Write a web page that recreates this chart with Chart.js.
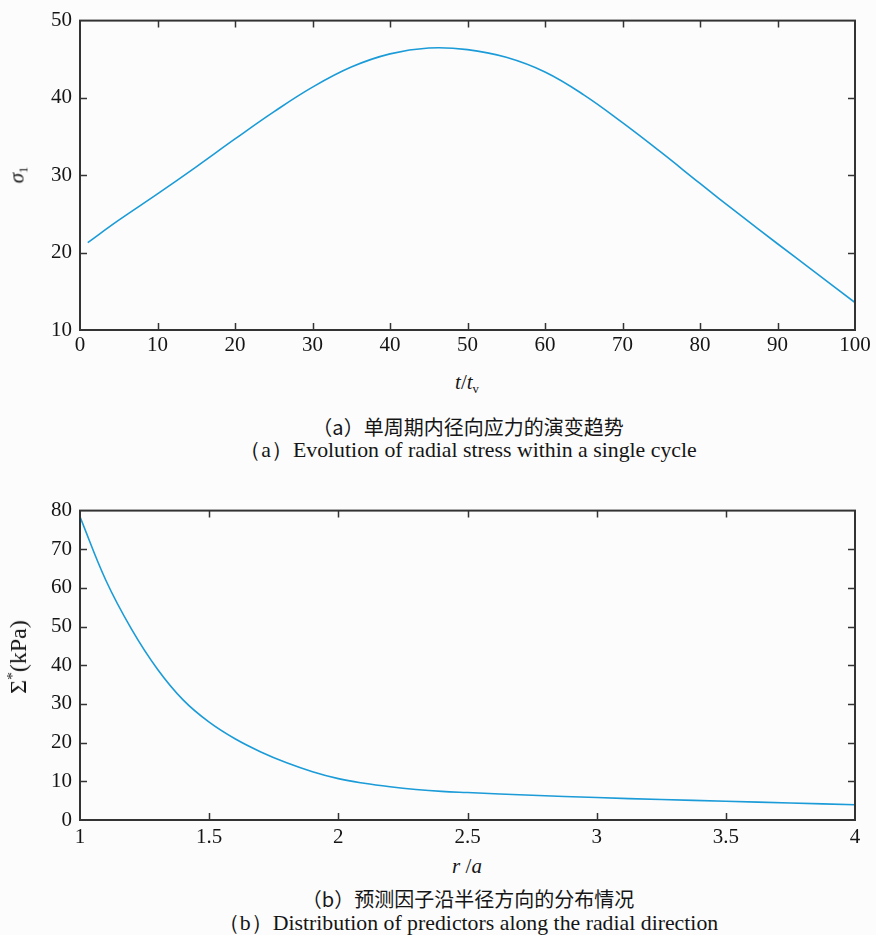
<!DOCTYPE html>
<html>
<head>
<meta charset="utf-8">
<script src="https://cdn.jsdelivr.net/npm/chart.js@4/dist/chart.umd.min.js"></script>
<style>
body {
    margin: 0;
    width: 876px;
    height: 935px;
    position: relative;
    overflow: hidden;
    background: #fcfcfc;
    color: #151515;
    font-family: "Liberation Serif", "DejaVu Serif", serif;
}
.panel { position: absolute; left: 0; width: 876px; height: 360px; }
.lbl { position: absolute; white-space: nowrap; transform: translate(-50%, -50%); line-height: 1; }
.rot { transform: translate(-50%, -50%) rotate(-90deg); }
.axis { font-size: 21px; }
.cap-zh { font-family: "Noto Sans CJK SC", sans-serif; font-size: 20px; }
.cap-en { font-size: 21.8px; }
sub { font-size: 60%; vertical-align: -0.35em; line-height: 0; }
sup { font-size: 65%; vertical-align: 0.55em; line-height: 0; }
</style>
</head>
<body>
<canvas id="stressChart" class="panel" style="top:0" width="876" height="360"></canvas>
<canvas id="predictorChart" class="panel" style="top:490px" width="876" height="360"></canvas>

<div class="lbl rot axis" style="left:17px; top:175px;"><i>σ</i><sub>1</sub></div>
<div class="lbl axis" style="left:467px; top:382px;"><i>t</i>/<i>t</i><sub>v</sub></div>
<div class="lbl cap-zh" style="left:468px; top:427px;">（a）单周期内径向应力的演变趋势</div>
<div class="lbl cap-en" style="left:468px; top:451px;">（a）Evolution of radial stress within a single cycle</div>

<div class="lbl rot" style="left:18px; top:657px; font-size:24px;">Σ<sup>*</sup>(kPa)</div>
<div class="lbl axis" style="left:467px; top:866px;"><i>r</i> /<i>a</i></div>
<div class="lbl cap-zh" style="left:468px; top:899px;">（b）预测因子沿半径方向的分布情况</div>
<div class="lbl cap-en" style="left:468px; top:924px;">（b）Distribution of predictors along the radial direction</div>

<script>
// (a) radial stress over one cycle
const timeSteps = [1, 5, 10, 15, 20, 25, 30, 35, 40, 45, 50, 55, 60, 65, 70, 75, 80, 85, 90, 95, 100];
const radialStress = [21.3, 24.2, 27.6, 31.1, 34.7, 38.2, 41.4, 44.0, 45.7, 46.45, 46.25, 45.25, 43.35, 40.4, 36.8, 32.95, 28.95, 25.0, 21.15, 17.35, 13.55];

// (b) predictor along the radius
const radiusRatio = [1.0, 1.1, 1.2, 1.3, 1.4, 1.5, 1.6, 1.7, 1.8, 1.9, 2.0, 2.1, 2.2, 2.3, 2.4, 2.5, 2.75, 3.0, 3.25, 3.5, 3.75, 4.0];
const predictor = [78.4, 62.0, 49.3, 39.0, 31.0, 25.3, 21.0, 17.6, 14.8, 12.5, 10.7, 9.5, 8.6, 7.9, 7.4, 7.1, 6.4, 5.8, 5.3, 4.85, 4.4, 3.95];

// axis ranges: [min, max, step]
const timeAxis = [0, 100, 10];
const stressAxis = [10, 50, 10];
const radiusAxis = [1, 4, 0.5];
const predictorAxis = [0, 80, 10];

const LINE_COLOR = '#1b9bd7';
const FRAME_COLOR = '#333';
const TICK_FONT = { family: '"Liberation Serif", serif', size: 21 };

// closed box with inward ticks on all four sides
const boxTicks = {
    id: 'boxTicks',
    afterDatasetsDraw(chart) {
        const { ctx, chartArea: a, scales: { x, y } } = chart;
        const len = 7;
        ctx.save();
        ctx.strokeStyle = FRAME_COLOR;
        ctx.lineWidth = 1.5;
        ctx.beginPath();
        x.ticks.forEach(t => {
            if (t.value <= x.min || t.value >= x.max) return;
            const px = Math.round(x.getPixelForValue(t.value)) + 0.5;
            ctx.moveTo(px, a.bottom);
            ctx.lineTo(px, a.bottom - len);
            ctx.moveTo(px, a.top);
            ctx.lineTo(px, a.top + len);
        });
        y.ticks.forEach(t => {
            if (t.value <= y.min || t.value >= y.max) return;
            const py = Math.round(y.getPixelForValue(t.value)) + 0.5;
            ctx.moveTo(a.left, py);
            ctx.lineTo(a.left + len, py);
            ctx.moveTo(a.right, py);
            ctx.lineTo(a.right - len, py);
        });
        ctx.stroke();
        ctx.lineWidth = 2;
        ctx.strokeRect(a.left, a.top, a.right - a.left, a.bottom - a.top);
        ctx.restore();
    }
};

function axisOptions(range, padding, fit) {
    return {
        type: 'linear',
        min: range[0],
        max: range[1],
        grid: { display: false, drawTicks: false },
        border: { display: false },
        ticks: {
            stepSize: range[2],
            padding: padding,
            autoSkip: false,
            maxRotation: 0,
            color: '#151515',
            font: TICK_FONT,
            callback: v => String(v)
        },
        afterFit: fit
    };
}

function makeChart(id, xs, ys, xRange, yRange, xPad, topPad) {
    const points = xs.map((v, i) => ({ x: v, y: ys[i] }));
    return new Chart(document.getElementById(id), {
        type: 'line',
        data: {
            datasets: [{
                data: points,
                borderColor: LINE_COLOR,
                borderWidth: 1.6,
                pointRadius: 0,
                tension: 0.4,
                fill: false
            }]
        },
        options: {
            responsive: false,
            animation: false,
            layout: { padding: { top: topPad, right: 21, left: 0, bottom: 0 } },
            plugins: { legend: { display: false }, tooltip: { enabled: false } },
            scales: {
                x: axisOptions(xRange, xPad, s => { s.height = 30; }),
                y: axisOptions(yRange, 8, s => { s.width = 80; })
            }
        },
        plugins: [boxTicks]
    });
}

function drawAll() {
    makeChart('stressChart', timeSteps, radialStress, timeAxis, stressAxis, 3, 16);
    makeChart('predictorChart', radiusRatio, predictor, radiusAxis, predictorAxis, 5, 17);
}

document.fonts.load('21px "Liberation Serif"').then(drawAll, drawAll);
</script>
</body>
</html>
